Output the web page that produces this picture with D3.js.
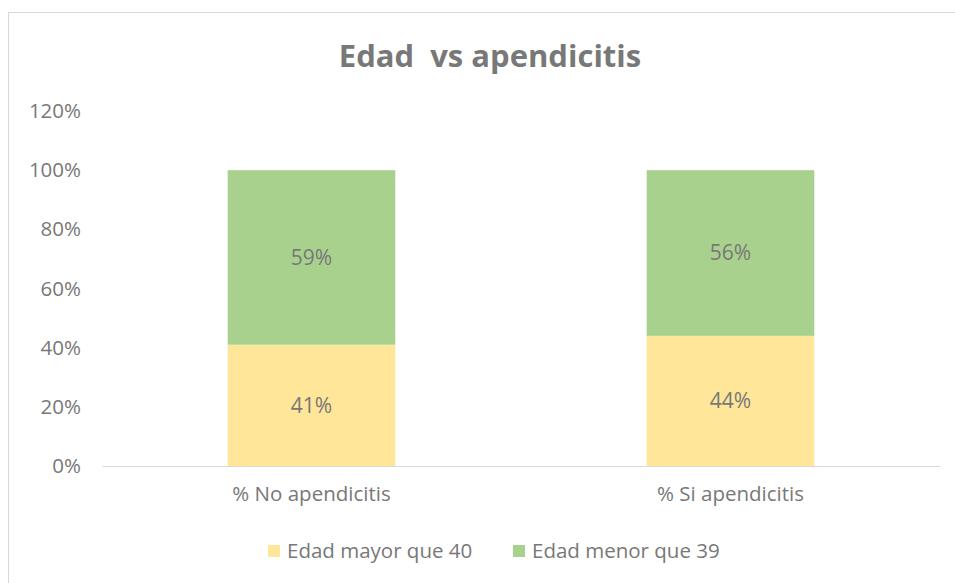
<html>
<script src="https://cdn.jsdelivr.net/npm/d3@7"></script>
<style>
  body { margin: 0; background: #fff; }
  text { font-family: "Open Sans", sans-serif; fill: #787878; }
</style>
<body>
<svg width="955" height="583"></svg>
<script>
var categories = ["% No apendicitis", "% Si apendicitis"];
var seriesNames = ["Edad mayor que 40", "Edad menor que 39"];
var mayor40 = [0.41, 0.44];
var menor39 = [0.59, 0.56];
var tickValues = [0, 0.2, 0.4, 0.6, 0.8, 1.0, 1.2];
var colors = ["#ffe699", "#a9d18e"];

var svg = d3.select("svg");

// chart frame
svg.append("rect").attr("x", 8.5).attr("y", 12.5).attr("width", 960).attr("height", 600)
   .attr("fill", "none").attr("stroke", "#d9d9d9");

var plotLeft = 102, plotRight = 940, plotTop = 111, plotBottom = 466;

var x = d3.scaleBand().domain(categories).range([plotLeft, plotRight])
          .paddingInner(0.6).paddingOuter(0.3);
var y = d3.scaleLinear().domain([0, 1.2]).range([plotBottom, plotTop]);

var table = categories.map(function(c, i) {
  return { cat: c, a: mayor40[i], b: menor39[i] };
});
var stacked = d3.stack().keys(["a", "b"])(table);

svg.append("text").attr("x", 490).attr("y", 67).attr("text-anchor", "middle")
   .style("font-size", "31px").style("font-weight", "bold").style("white-space", "pre")
   .text("Edad  vs apendicitis");

// y axis labels
var yAxis = svg.append("g").attr("transform", "translate(81,0)")
   .call(d3.axisLeft(y).tickValues(tickValues).tickSize(0).tickPadding(0)
         .tickFormat(d3.format(".0%")));
yAxis.select(".domain").remove();
yAxis.selectAll("text").style("font-size", "20.5px").style("fill", "#787878")
     .style("font-family", "'Open Sans', sans-serif");

var layers = svg.selectAll("g.layer").data(stacked).enter().append("g")
   .attr("class", "layer").attr("fill", function(d, i) { return colors[i]; });

layers.selectAll("rect").data(function(d) { return d; }).enter().append("rect")
   .attr("x", function(d) { return x(d.data.cat); })
   .attr("width", x.bandwidth())
   .attr("y", function(d) { return y(d[1]); })
   .attr("height", function(d) { return y(d[0]) - y(d[1]); });

layers.selectAll("text").data(function(d) { return d; }).enter().append("text")
   .attr("x", function(d) { return x(d.data.cat) + x.bandwidth() / 2; })
   .attr("y", function(d) { return (y(d[0]) + y(d[1])) / 2; })
   .attr("dy", "0.35em").attr("text-anchor", "middle")
   .style("font-size", "21px")
   .text(function(d) { return d3.format(".0%")(d[1] - d[0]); });

// x axis
var xAxis = svg.append("g").attr("transform", "translate(0," + plotBottom + ")")
   .call(d3.axisBottom(x).tickSize(0).tickPadding(20));
xAxis.select(".domain").attr("stroke", "#d9d9d9");
xAxis.selectAll("text").style("font-size", "20.5px").style("fill", "#787878")
     .style("font-family", "'Open Sans', sans-serif");

// legend
var legX = [268, 513];
var leg = svg.selectAll("g.leg").data(seriesNames).enter().append("g")
   .attr("class", "leg")
   .attr("transform", function(d, i) { return "translate(" + legX[i] + ",551)"; });
leg.append("rect").attr("x", 0).attr("y", -6).attr("width", 12).attr("height", 12)
   .attr("fill", function(d, i) { return colors[i]; });
leg.append("text").attr("x", 19).attr("dy", "0.35em").style("font-size", "20.5px")
   .text(function(d) { return d; });
</script>
</body>
</html>
